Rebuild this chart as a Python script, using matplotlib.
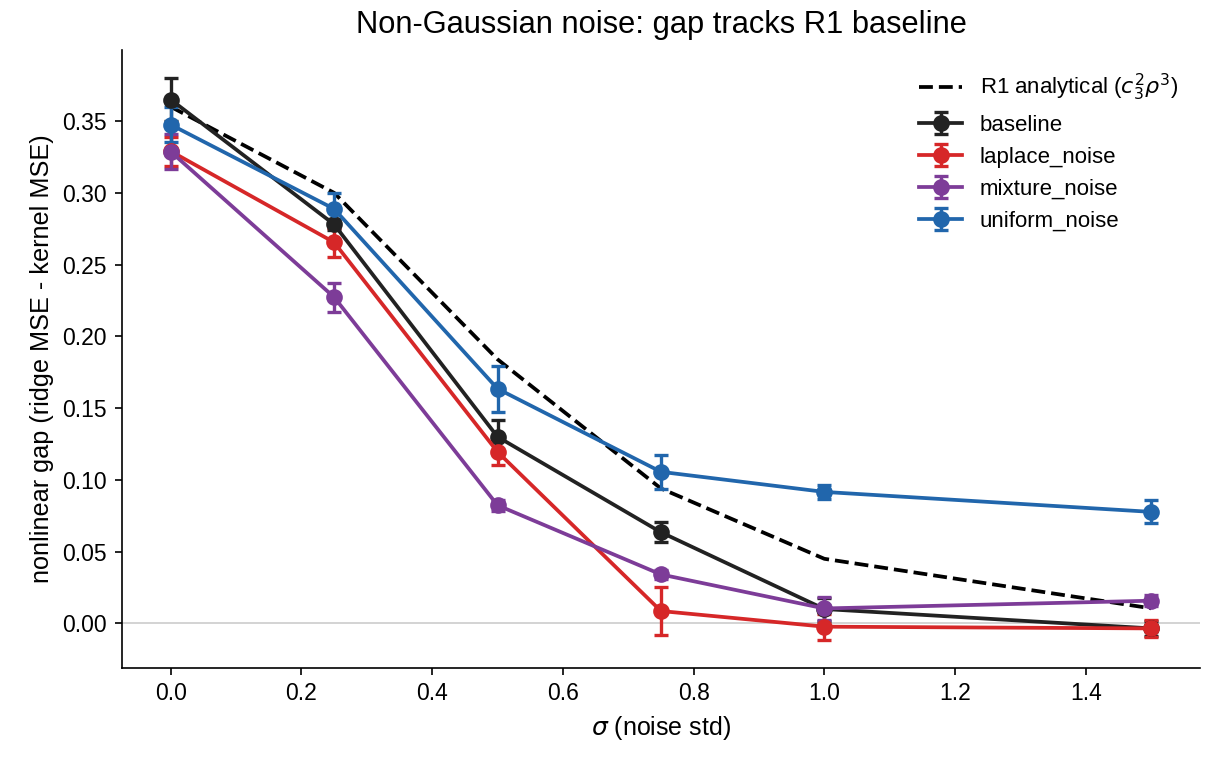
import matplotlib
matplotlib.use("Agg")
import matplotlib.pyplot as plt

plt.rcParams['font.family'] = ['Liberation Sans', 'DejaVu Sans']

sigma = [0.0, 0.25, 0.5, 0.75, 1.0, 1.5]
r1_analytical = [0.360, 0.300, 0.184, 0.094, 0.045, 0.0105]

names = ['baseline', 'laplace_noise', 'mixture_noise', 'uniform_noise']
colors = ['#222222', '#d62728', '#7d3c98', '#2166ac']
gap_mean = {
    'baseline':      [0.365, 0.278, 0.130, 0.0635, 0.010, -0.0035],
    'laplace_noise': [0.329, 0.2655, 0.1195, 0.0086, -0.0023, -0.0035],
    'mixture_noise': [0.3287, 0.2273, 0.0823, 0.0341, 0.0104, 0.0158],
    'uniform_noise': [0.3475, 0.2888, 0.1635, 0.1056, 0.0916, 0.0777],
}
gap_err = {
    'baseline':      [0.015, 0.004, 0.012, 0.007, 0.008, 0.005],
    'laplace_noise': [0.010, 0.010, 0.009, 0.017, 0.009, 0.006],
    'mixture_noise': [0.012, 0.010, 0.004, 0.003, 0.008, 0.004],
    'uniform_noise': [0.012, 0.011, 0.016, 0.012, 0.005, 0.008],
}

fig, ax = plt.subplots(figsize=(1205 / 150, 757 / 150), dpi=150)
fig.subplots_adjust(left=0.101, right=0.996, top=0.934, bottom=0.118)

ax.axhline(0, color='#cccccc', lw=0.8, zorder=0)
ax.plot(sigma, r1_analytical, 'k--', lw=1.8, label=r'R1 analytical ($c_3^2\rho^3$)')
for name, c in zip(names, colors):
    ax.errorbar(sigma, gap_mean[name], yerr=gap_err[name], color=c, marker='o',
                ms=7, lw=1.8, capsize=3.5, capthick=1.6, elinewidth=1.6, label=name)

ax.set_xlabel(r'$\sigma$ (noise std)', fontsize=12)
ax.set_ylabel('nonlinear gap (ridge MSE - kernel MSE)', fontsize=12.1)
ax.set_title('Non-Gaussian noise: gap tracks R1 baseline', fontsize=14.8, pad=8)
ax.tick_params(labelsize=11)
ax.spines['top'].set_visible(False)
ax.spines['right'].set_visible(False)
ax.legend(frameon=False, fontsize=10.7, loc='upper right', borderaxespad=0.6,
          handlelength=1.9)

fig.savefig('out.png', dpi=150)
